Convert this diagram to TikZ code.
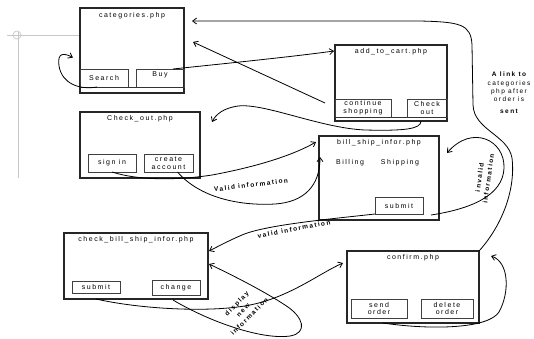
\documentclass[tikz,border=0pt]{standalone}
\usepackage{fontspec}
\setmainfont{Liberation Sans}[LetterSpace=22]
\usetikzlibrary{positioning,calc,arrows.meta}
\tikzset{PAGE/.style={rectangle,draw=black!85,line width=1.1pt,inner sep=0pt,outer sep=0pt,anchor=north west}}
\tikzset{TITLE/.style={font=\fontsize{7}{8}\selectfont,inner sep=0pt}}
\tikzset{BUTTON/.style={rectangle,draw=black!75,line width=0.9pt,inner sep=0pt,outer sep=0pt,align=center,anchor=north west,font=\fontsize{7}{7.8}\selectfont}}
\tikzset{ARROW/.style={line width=0.8pt,-{Straight Barb[length=4pt,width=6pt]}}}
\tikzset{LABEL/.style={font=\bfseries\fontsize{6.5}{9}\selectfont,inner sep=0pt,align=center}}
\tikzset{MARK/.style={draw=black!22,line width=0.7pt}}

\begin{document}
\begin{tikzpicture}[x=1pt,y=-1pt]
\useasboundingbox (0,0) rectangle (534,338);

% crop mark
\draw[MARK] (7,35) -- (80,35);
\draw[MARK] (18,32) -- (18,178);
\draw[MARK] (17,35) circle (4);

\node[PAGE, minimum width=104pt, minimum height=85pt] (n_categories) at (80,8) {};
\node[TITLE] (t_categories) at ($(n_categories.north)+(0,8)$) {categories.php};
\node[BUTTON, minimum width=48pt, minimum height=18pt] (n_search) at ($(n_categories.north west)+(0,61)$) {Search};
\node[BUTTON, minimum width=48pt, minimum height=18pt, text depth=7pt] (n_buy) at ($(n_search.north east)+(8,0)$) {Buy};
\draw[line width=0.9pt, black!80] (n_search.south west) -- (n_buy.south east);

\node[PAGE, minimum width=112pt, minimum height=76pt] (n_addcart) at (335,45) {};
\node[TITLE] (t_addcart) at ($(n_addcart.north)+(0,7)$) {add\_to\_cart.php};
\node[BUTTON, minimum width=56pt, minimum height=18pt] (n_continue) at ($(n_addcart.north west)+(0,54)$) {continue\\shopping};
\node[BUTTON, minimum width=40pt, minimum height=18pt] (n_checkout) at ($(n_continue.north east)+(16,0)$) {Check\\out};
\draw[line width=0.9pt, black!80] (n_continue.south west) -- (n_checkout.south east);

\node[PAGE, minimum width=120pt, minimum height=66pt] (n_checkoutpage) at (80,112) {};
\node[TITLE] (t_checkoutpage) at ($(n_checkoutpage.north)+(0,7)$) {Check\_out.php};
\node[BUTTON, minimum width=48pt, minimum height=18pt] (n_signin) at ($(n_checkoutpage.north west)+(8,42)$) {sign in};
\node[BUTTON, minimum width=49pt, minimum height=18pt] (n_create) at ($(n_signin.north east)+(8,0)$) {create\\account};

\node[PAGE, minimum width=120pt, minimum height=84pt] (n_bill) at (319,136) {};
\node[TITLE] (t_bill) at ($(n_bill.north)+(0,7)$) {bill\_ship\_infor.php};
\node[TITLE] (n_billing) at ($(n_bill.north west)+(31,27)$) {Billing};
\node[TITLE] (n_shipping) at ($(n_bill.north west)+(81,27)$) {Shipping};
\node[BUTTON, minimum width=48pt, minimum height=17pt] (n_billsubmit) at ($(n_bill.north west)+(56,61)$) {submit};

\node[PAGE, minimum width=144pt, minimum height=66pt] (n_checkbill) at (64,233) {};
\node[TITLE] (t_checkbill) at ($(n_checkbill.north)+(0,7)$) {check\_bill\_ship\_infor.php};
\node[BUTTON, minimum width=48pt, minimum height=12pt] (n_checksubmit) at ($(n_checkbill.north west)+(8,48)$) {submit};
\node[BUTTON, minimum width=48pt, minimum height=15pt] (n_change) at ($(n_checkbill.north west)+(88,47)$) {change};

\node[PAGE, minimum width=132pt, minimum height=72pt] (n_confirm) at (347,251) {};
\node[TITLE] (t_confirm) at ($(n_confirm.north)+(0,7)$) {confirm.php};
\node[BUTTON, minimum width=56pt, minimum height=19pt] (n_send) at ($(n_confirm.north west)+(4,48)$) {send\\order};
\node[BUTTON, minimum width=52pt, minimum height=19pt] (n_delete) at ($(n_send.north east)+(14,0)$) {delete\\order};

\node[LABEL, font=\bfseries\fontsize{6.5}{8.3}\selectfont] (n_linknote) at (509,93) {A link to\\{\mdseries categories}\\{\mdseries php after}\\{\mdseries order is}\\[4pt]sent};

% arrow ends
\coordinate (c_cat_top) at ($(n_categories.north east)+(8,13)$);
\coordinate (c_cat_mid) at ($(n_categories.north east)+(9,34)$);
\coordinate (c_search_in) at ($(n_categories.west)+(-7,7)$);
\coordinate (c_cart_in) at ($(n_addcart.west)+(-1,-32)$);
\coordinate (c_checkout_in) at ($(n_checkoutpage.north east)+(12,10)$);
\coordinate (c_bill_in1) at ($(n_bill.north west)+(-3,6)$);
\coordinate (c_bill_in2) at ($(n_bill.north west)+(1,21)$);
\coordinate (c_bill_in3) at ($(n_bill.north east)+(8,17)$);
\coordinate (c_check_in1) at ($(n_checkbill.north east)+(1,18)$);
\coordinate (c_check_in2) at ($(n_checkbill.north east)+(1,31)$);
\coordinate (c_confirm_in1) at ($(n_confirm.north west)+(-4,12)$);
\coordinate (c_confirm_in2) at ($(n_confirm.north east)+(12,5)$);

\draw[ARROW] (n_confirm.north east) .. controls (500,228) and (516,192) .. (512,158) .. controls (508,135) and (474,130) .. (473,105) -- (472,45) .. controls (471,24) and (460,22) .. (420,21) -- (c_cat_top);
\draw[ARROW] ($(n_search.south)+(-7,0)$) .. controls (80,90) and (62,84) .. (59,66) .. controls (57,52) and (64,53) .. (c_search_in);
\draw[ARROW] ($(n_buy.north east)+(-11,0)$) .. controls (230,63) and (290,57) .. (c_cart_in);
\draw[ARROW] ($(n_continue.west)+(-10,-5)$) -- (c_cat_mid);
\draw[ARROW] ($(n_checkout.south)+(-6,4)$) .. controls (421,129) and (405,131) .. (365,130) .. controls (320,128) and (265,103) .. (238,106) .. controls (224,108) and (216,114) .. (c_checkout_in);

\draw[ARROW] (n_signin.south) .. controls (140,181) and (180,180) .. (212,175) .. controls (250,168) and (290,157) .. (c_bill_in1);
\draw[ARROW] ($(n_create.south)+(9,0)$) .. controls (200,198) and (240,206) .. (275,204) .. controls (305,202) and (320,185) .. (c_bill_in2);
\node[LABEL, rotate=7] (n_valid1) at (251,185) {Valid information};

\draw[ARROW] (n_billsubmit.south west) .. controls (330,219) and (265,225) .. (242,235) .. controls (228,241) and (217,247) .. (c_check_in1);
\node[LABEL, rotate=11] (n_valid2) at (294,229) {valid information};

\draw[ARROW] ($(n_billsubmit.south east)+(8,1)$) .. controls (470,209) and (503,196) .. (504,168) .. controls (505,140) and (472,124) .. (c_bill_in3);
\node[LABEL, rotate=82] (n_invalid) at (484,178) {invalid\\information};

\draw[ARROW] ($(n_checksubmit.south)+(0,6)$) .. controls (140,309) and (210,313) .. (250,305) .. controls (290,297) and (320,273) .. (c_confirm_in1);
\draw[ARROW] ($(n_change.south)+(-3,5)$) .. controls (210,322) and (262,340) .. (290,336) .. controls (308,333) and (304,317) .. (285,305) .. controls (262,290) and (230,274) .. (c_check_in2);
\node[LABEL, rotate=45] (n_display) at (243,310) {display\\new\\information};

\draw[ARROW] ($(n_confirm.south)+(-30,0)$) .. controls (430,330) and (488,329) .. (499,312) .. controls (510,292) and (509,262) .. (c_confirm_in2);

\end{tikzpicture}
\end{document}
